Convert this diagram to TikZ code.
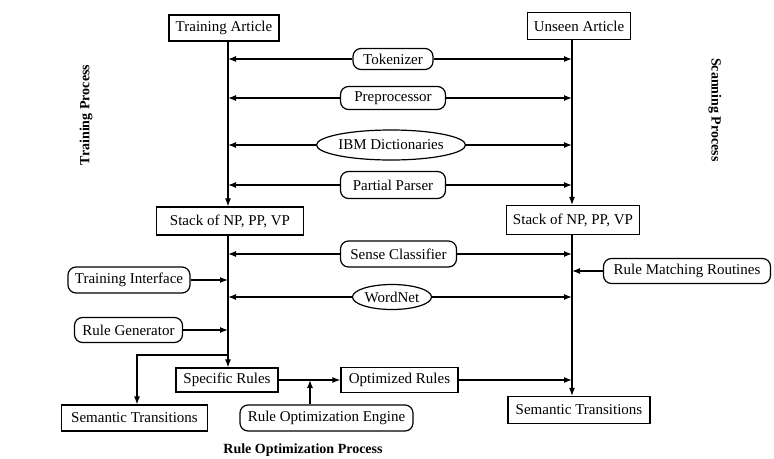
\documentclass[tikz,border=0pt]{standalone}
\usepackage{fontspec}
\setmainfont{Liberation Serif}
\usetikzlibrary{shapes.geometric,arrows.meta}
\begin{document}
\begin{tikzpicture}[x=1pt,y=-1pt,
  every node/.style={font=\fontsize{15}{18}\selectfont, inner sep=0pt},
  box/.style={draw, line width=1.2pt, rectangle},
  rbox/.style={draw, line width=1.2pt, rectangle, rounded corners=8pt},
  ell/.style={draw, line width=1.2pt, ellipse},
  proc/.style={font=\fontsize{14}{17}\selectfont\bfseries},
  arr/.style={line width=1.2pt, -{Latex[length=8pt,width=6pt]}}]
\useasboundingbox (0,0) rectangle (774,458);
\coordinate (xL) at (228,0);
\coordinate (xR) at (572,0);
% top boxes
\node[box, minimum width=110, minimum height=26] (TA) at (224,28) {Training Article};
\node[box, minimum width=103, minimum height=27] (UA) at (579,26) {Unseen Article};
% shared modules
\node[rbox, minimum width=80, minimum height=21] (tok) at (393,59) {Tokenizer};
\node[rbox, minimum width=105, minimum height=23] (pre) at (393,98) {Preprocessor};
\node[ell, minimum width=137, minimum height=30] (ibm) at (391,145) {IBM Dictionaries};
\node[rbox, minimum width=105, minimum height=27] (pp) at (393,185) {Partial Parser};
\node[box, minimum width=147, minimum height=28] (SL) at (230,221) {Stack of NP, PP, VP};
\node[box, minimum width=133, minimum height=29] (SRt) at (573,220) {Stack of NP, PP, VP};
\node[rbox, minimum width=116, minimum height=26] (sc) at (398.5,254) {Sense Classifier};
\node[ell, minimum width=79, minimum height=25] (wn) at (392,297) {WordNet};
\node[rbox, minimum width=122, minimum height=26] (ti) at (129,280) {Training Interface};
\node[rbox, minimum width=108, minimum height=25] (rg) at (128.5,330) {Rule Generator};
\node[rbox, minimum width=167, minimum height=25] (rmr) at (687,271) {Rule Matching Routines};
\node[box, minimum width=102, minimum height=24] (SR) at (227,380) {Specific Rules};
\node[box, minimum width=117, minimum height=25] (OR) at (399.5,380) {Optimized Rules};
\node[rbox, minimum width=173, minimum height=26] (ROE) at (326.5,418) {Rule Optimization Engine};
\node[box, minimum width=146, minimum height=26] (STL) at (134.5,418) {Semantic Transitions};
\node[box, minimum width=142, minimum height=27] (STR) at (579,410) {Semantic Transitions};
% process labels
\node[proc, rotate=90] (tp) at (86,115) {Training Process};
\node[proc, rotate=-90] (sp) at (715,110) {Scanning Process};
\node[proc] (rop) at (303,450) {Rule Optimization Process};
% main verticals
\draw[arr] (TA.south -| xL) -- (SL.north -| xL);
\draw[arr] (UA.south -| xR) -- (SRt.north -| xR);
\draw[arr] (SL.south -| xL) -- (SR.north -| xL);
\draw[arr] (SRt.south -| xR) -- (STR.north -| xR);
% shared modules to both lines
\foreach \n in {tok,pre,ibm,pp,sc,wn}{
  \draw[arr] (\n.west) -- (\n.west -| xL);
  \draw[arr] (\n.east) -- (\n.east -| xR);
}
\draw[arr] (ti.east) -- (ti.east -| xL);
\draw[arr] (rg.east) -- (rg.east -| xL);
\draw[arr] (rmr.west) -- (rmr.west -| xR);
% branch to left semantic transitions
\coordinate (br) at (228,355);
\coordinate (brx) at (137,0);
\draw[arr] (br) -| (STL.north -| brx);
% optimization
\draw[arr] (SR.east) -- (OR.west);
\coordinate (xo) at (310,0);
\draw[arr] (ROE.north -| xo) -- (SR.east -| xo);
\draw[arr] (OR.east) -- (OR.east -| xR);
\end{tikzpicture}
\end{document}
